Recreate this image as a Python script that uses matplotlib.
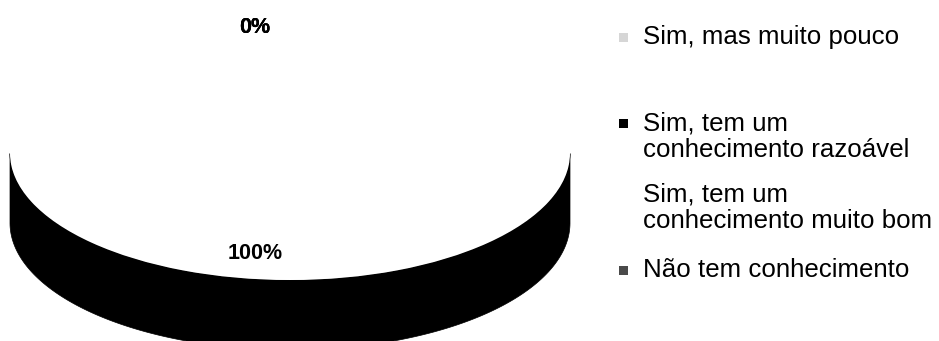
import numpy as np
import matplotlib.pyplot as plt
from matplotlib.patches import Wedge, Polygon, Rectangle

# ------------------------
# Data
# ------------------------
categories = [
    "Sim, mas muito pouco",
    "Sim, tem um\nconhecimento razoável",
    "Sim, tem um\nconhecimento muito bom",
    "Não tem conhecimento",
]
values = [100, 0, 0, 0]

top_colors = ["white", "black", "white", "#3a3a3a"]
side_colors = ["black", "black", "white", "black"]
marker_colors = ["#d6d6d6", "black", "white", "#4a4a4a"]
marker_hatch = ["....", None, None, "xxxx"]

plt.rcParams['font.family'] = ['Liberation Sans', 'DejaVu Sans']

W, H = 939, 341
fig = plt.figure(figsize=(W / 100, H / 100), dpi=100)
ax = fig.add_axes([0, 0, 1, 1])

# pixel geometry of the tilted pie
cx, cy = 290, 153      # centre of top ellipse (px from top-left)
a, b = 280, 127        # semi axes (px)
depth = 70 / b         # side height in unit-circle y units

ax.set_xlim(-cx / a, (W - cx) / a)
ax.set_ylim(-(H - cy) / b, cy / b)
ax.axis("off")

# ------------------------
# Slices: clockwise from 90 degrees
# ------------------------
total = float(sum(values))
angles = [90.0]
for v in values:
    angles.append(angles[-1] - 360.0 * v / total)

# side walls (front half only)
for i, v in enumerate(values):
    if v == 0:
        continue
    th = np.deg2rad(np.linspace(angles[i + 1], angles[i], 400))
    front = np.sin(th) <= 0
    if not front.any():
        continue
    x = np.cos(th[front])
    y = np.sin(th[front])
    pts = np.column_stack([np.r_[x, x[::-1]], np.r_[y, y[::-1] - depth]])
    ax.add_patch(Polygon(pts, closed=True, facecolor=side_colors[i],
                         edgecolor=side_colors[i], lw=0.5))

# top faces
for i, v in enumerate(values):
    if v == 0:
        continue
    ax.add_patch(Wedge((0, 0), 1.0, angles[i + 1], angles[i],
                       facecolor=top_colors[i], edgecolor="none"))

# percentage labels
for i, v in enumerate(values):
    mid = np.deg2rad((angles[i] + angles[i + 1]) / 2)
    r = 0.79 if v > 0 else 0.99
    ax.text(r * np.cos(mid) - 0.125, r * np.sin(mid), f"{v / total:.0%}",
            ha="center", va="center", fontsize=15.5, fontweight="bold")

# ------------------------
# Legend (drawn by hand)
# ------------------------
legend_y = [37, 137, 208, 270]   # px from top, centre of each entry
line_h = 27
for lab, yc, mc, hc in zip(categories, legend_y, marker_colors, marker_hatch):
    n = lab.count("\n") + 1
    y_first = yc - (n - 1) * line_h / 2
    if mc != "white":
        fig.patches.append(Rectangle((619 / W, 1 - (y_first + 4.5) / H), 9 / W, 9 / H,
                                     transform=fig.transFigure,
                                     facecolor=mc, edgecolor="none",
                                     hatch=hc))
    fig.text(643 / W, 1 - yc / H, lab, ha="left", va="center",
             fontsize=18.6, linespacing=1.13)

fig.savefig("out.png", dpi=100, facecolor="white")
